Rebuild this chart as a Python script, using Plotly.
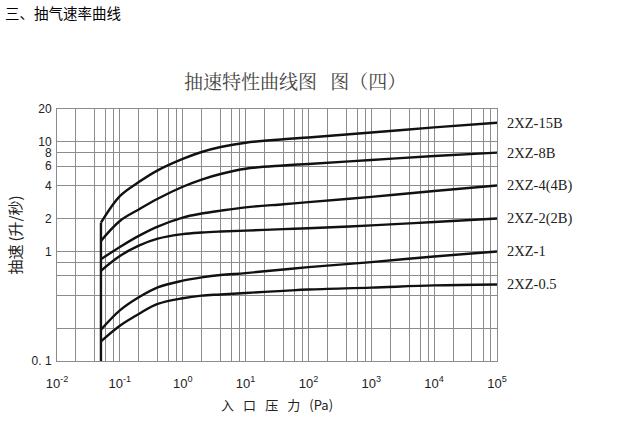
import math
import plotly.graph_objects as go

# ---- data ----
pressure_pa = [0.05, 0.1, 0.2, 0.4, 1, 2, 4, 10, 40, 100, 1000, 10000, 100000]

speed_15b = [1.83, 3.2, 4.3, 5.5, 7.0, 8.1, 9.0, 9.85, 10.6, 11.0, 12.2, 13.6, 15.0]
speed_8b = [1.25, 1.9, 2.42, 3.03, 3.9, 4.54, 5.1, 5.7, 6.1, 6.3, 6.85, 7.45, 8.0]
speed_4b = [0.85, 1.1, 1.39, 1.69, 2.04, 2.22, 2.36, 2.53, 2.7, 2.82, 3.15, 3.57, 4.0]
speed_2b = [0.667, 0.91, 1.13, 1.31, 1.44, 1.49, 1.52, 1.55, 1.6, 1.63, 1.73, 1.86, 2.0]
speed_1 = [0.193, 0.29, 0.382, 0.471, 0.541, 0.58, 0.61, 0.635, 0.685, 0.72, 0.80, 0.90, 1.0]
speed_05 = [0.151, 0.21, 0.269, 0.332, 0.374, 0.395, 0.405, 0.418, 0.437, 0.45, 0.468, 0.49, 0.5]

series_names = ["2XZ-15B", "2XZ-8B", "2XZ-4(4B)", "2XZ-2(2B)", "2XZ-1", "2XZ-0.5"]
series_values = [speed_15b, speed_8b, speed_4b, speed_2b, speed_1, speed_05]

wall_x = [0.05, 0.05]
wall_y = [0.1, 1.83]

y_tickvals = [0.1, 0.2, 0.4, 0.6, 0.8, 1, 2, 4, 6, 8, 10, 20]
y_ticktext = ["0. 1", "", "", "", "", "1", "2", "4", "6", "8", "10", "20"]

x_decades = [-2, -1, 0, 1, 2, 3, 4, 5]
x_minor_mult = [1, 2, 4, 6, 8]
x_tickvals, x_ticktext = [], []
for d in x_decades:
    for m in (x_minor_mult if d < 5 else [1]):
        x_tickvals.append(m * 10.0 ** d)
        x_ticktext.append(f"10<sup>{d}</sup>" if m == 1 else "")

title_text = "抽速特性曲线图\u2002\u2009图（四）"
header_text = "三、抽气速率曲线"
x_title = "入\u2002\u2009口\u2002\u2009压\u2002\u2009力\u2002\u2009(Pa)"
y_title = "抽速\u2009(升/秒)"

# ---- figure (page body margin removed, so figure pixels = page pixels) ----
W, H = 636, 424
L, T = 57, 109
R, B = W - 497, H - 361
PW, PH = W - L - R, H - T - B

fig = go.Figure()
for name, vals in zip(series_names, series_values):
    fig.add_trace(go.Scatter(x=pressure_pa, y=vals, mode="lines", name=name,
                             line=dict(color="#111", width=2.4, shape="spline", smoothing=1.0),
                             showlegend=False, hoverinfo="x+y+name"))
fig.add_trace(go.Scatter(x=wall_x, y=wall_y, mode="lines",
                         line=dict(color="#111", width=2.4), showlegend=False))

for name, vals in zip(series_names, series_values):
    fig.add_annotation(x=1.018, xref="paper", y=math.log10(vals[-1]), yref="y",
                       text=name, showarrow=False, xanchor="left", yanchor="middle",
                       font=dict(family="Liberation Serif", size=14.5, color="#222"))

fig.add_annotation(text=title_text, x=(295 - L) / PW, xref="paper",
                   y=1 + (T - 80) / PH, yref="paper", showarrow=False,
                   xanchor="center", yanchor="middle",
                   font=dict(family="Noto Serif CJK SC, Noto Sans CJK SC", size=19, color="#444"))
fig.add_annotation(text=header_text, x=(3 - L) / PW, xref="paper",
                   y=1 + (T - 12) / PH, yref="paper", showarrow=False,
                   xanchor="left", yanchor="middle",
                   font=dict(family="Noto Sans CJK SC", size=14.5, color="#000"))

grid = "#8c8c8c"
fig.update_xaxes(type="log", range=[-2, 5], tickmode="array", tickvals=x_tickvals,
                 ticktext=x_ticktext, showgrid=True, gridcolor=grid, gridwidth=1,
                 showline=True, linecolor=grid, linewidth=1, mirror=True, zeroline=False,
                 ticks="", ticklabelstandoff=10, automargin=False,
                 tickfont=dict(family="Liberation Sans", size=13, color="#222"),
                 title=dict(text=x_title, standoff=11,
                            font=dict(family="Noto Sans CJK SC", size=13, color="#222")))
fig.update_yaxes(type="log", range=[-1, math.log10(20)], tickmode="array", tickvals=y_tickvals,
                 ticktext=y_ticktext, showgrid=True, gridcolor=grid, gridwidth=1,
                 showline=True, linecolor=grid, linewidth=1, mirror=True, zeroline=False,
                 ticks="", ticklabelstandoff=2, automargin=False,
                 tickfont=dict(family="Liberation Sans", size=12, color="#222"),
                 title=dict(text=y_title, standoff=6,
                            font=dict(family="Noto Sans CJK SC", size=15, color="#222")))

fig.update_layout(
    width=W, height=H,
    margin=dict(l=L, r=R, t=T, b=B, autoexpand=False),
    paper_bgcolor="white", plot_bgcolor="white",
)

fig.write_html("out.html", config={"displayModeBar": False},
               post_script="document.body.style.margin='0';")
